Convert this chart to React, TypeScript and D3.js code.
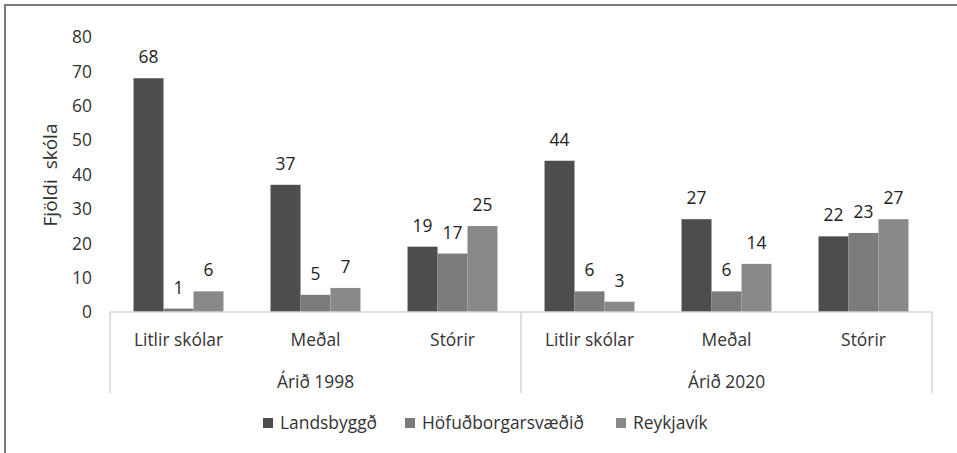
import { useRef, useEffect } from 'react';
import * as d3 from 'd3';

const years = ['Árið 1998', 'Árið 2020'];
const sizes = ['Litlir skólar', 'Meðal', 'Stórir'];
const seriesNames = ['Landsbyggð', 'Höfuðborgarsvæðið', 'Reykjavík'];
const colors = ['#4d4d4d', '#7b7b7b', '#898989'];

// values per series, order: 1998 (litlir, meðal, stórir), 2020 (litlir, meðal, stórir)
const landsbyggd = [68, 37, 19, 44, 27, 22];
const hofudborgarsvaedid = [1, 5, 17, 6, 6, 23];
const reykjavik = [6, 7, 25, 3, 14, 27];

const yTicks = [0, 10, 20, 30, 40, 50, 60, 70, 80];

const W = 957;
const H = 453;
const FONT = '"Open Sans", sans-serif';
const FS = '17.4px';

function App() {
    const ref = useRef<SVGSVGElement>(null);

    useEffect(() => {
        document.body.style.margin = '0';
        const svg = d3.select(ref.current);
        svg.selectAll('*').remove();

        const values = [landsbyggd, hofudborgarsvaedid, reykjavik];
        const keys = years.flatMap(yr => sizes.map(s => `${yr}|${s}`));

        const x0 = d3.scaleBand<string>().domain(keys).range([110, 932]);
        const x1 = d3.scaleBand<string>()
            .domain(seriesNames)
            .range([0, x0.bandwidth()])
            .paddingOuter(0.785);
        const yearX = d3.scaleBand<string>().domain(years).range([110, 932]);
        const y = d3.scaleLinear().domain([0, 80]).range([312, 37]);

        // frame
        svg.append('path')
            .attr('d', `M5,${H} L5,5 L${W},5`)
            .attr('fill', 'none')
            .attr('stroke', '#7a7a7a')
            .attr('stroke-width', 2);

        // y tick labels
        svg.append('g')
            .selectAll('text')
            .data(yTicks)
            .join('text')
            .attr('x', 92)
            .attr('y', d => y(d))
            .attr('dy', '0.36em')
            .attr('text-anchor', 'end')
            .style('font-family', FONT)
            .style('font-size', FS)
            .style('fill', '#333')
            .text(d => d);

        // y title
        svg.append('text')
            .attr('transform', `translate(57, 175) rotate(-90)`)
            .attr('text-anchor', 'middle')
            .style('font-family', FONT)
            .style('font-size', '19px')
            .style('fill', '#333')
            .style('white-space', 'pre')
            .text('Fjöldi  skóla');

        // bars
        seriesNames.forEach((name, si) => {
            const g = svg.append('g');
            g.selectAll('rect')
                .data(values[si])
                .join('rect')
                .attr('x', (_, i) => (x0(keys[i]) as number) + (x1(name) as number))
                .attr('y', d => y(d))
                .attr('width', x1.bandwidth())
                .attr('height', d => y(0) - y(d))
                .attr('fill', colors[si]);
            g.selectAll('text')
                .data(values[si])
                .join('text')
                .attr('x', (_, i) => (x0(keys[i]) as number) + (x1(name) as number) + x1.bandwidth() / 2)
                .attr('y', d => y(d) - 15)
                .attr('text-anchor', 'middle')
                .style('font-family', FONT)
                .style('font-size', FS)
                .style('fill', '#222')
                .text(d => d);
        });

        // axis line and separators
        const axisColor = '#d4d4d4';
        svg.append('line')
            .attr('x1', 110).attr('x2', 932)
            .attr('y1', y(0)).attr('y2', y(0))
            .attr('stroke', axisColor).attr('stroke-width', 1.5);
        const seps = [110, ...years.map(yr => (yearX(yr) as number) + yearX.bandwidth())];
        svg.append('g')
            .selectAll('line')
            .data(seps)
            .join('line')
            .attr('x1', d => d).attr('x2', d => d)
            .attr('y1', y(0)).attr('y2', 393)
            .attr('stroke', axisColor).attr('stroke-width', 1.5);

        // category labels
        svg.append('g')
            .selectAll('text')
            .data(keys)
            .join('text')
            .attr('x', d => (x0(d) as number) + x0.bandwidth() / 2)
            .attr('y', 346)
            .attr('text-anchor', 'middle')
            .style('font-family', FONT)
            .style('font-size', FS)
            .style('fill', '#333')
            .text(d => d.split('|')[1]);

        // year labels
        svg.append('g')
            .selectAll('text')
            .data(years)
            .join('text')
            .attr('x', d => (yearX(d) as number) + yearX.bandwidth() / 2)
            .attr('y', 388)
            .attr('text-anchor', 'middle')
            .style('font-family', FONT)
            .style('font-size', FS)
            .style('fill', '#333')
            .text(d => d);

        // legend
        const legendX = [263, 405, 616];
        const lg = svg.append('g');
        seriesNames.forEach((name, i) => {
            lg.append('rect')
                .attr('x', legendX[i]).attr('y', 418)
                .attr('width', 10).attr('height', 10)
                .attr('fill', colors[i]);
            lg.append('text')
                .attr('x', legendX[i] + 17).attr('y', 423)
                .attr('dy', '0.36em')
                .style('font-family', FONT)
                .style('font-size', FS)
                .style('fill', '#333')
                .text(name);
        });
    }, []);

    return <svg ref={ref} width={W} height={H} style={{ display: 'block' }} />;
}

export default App;
